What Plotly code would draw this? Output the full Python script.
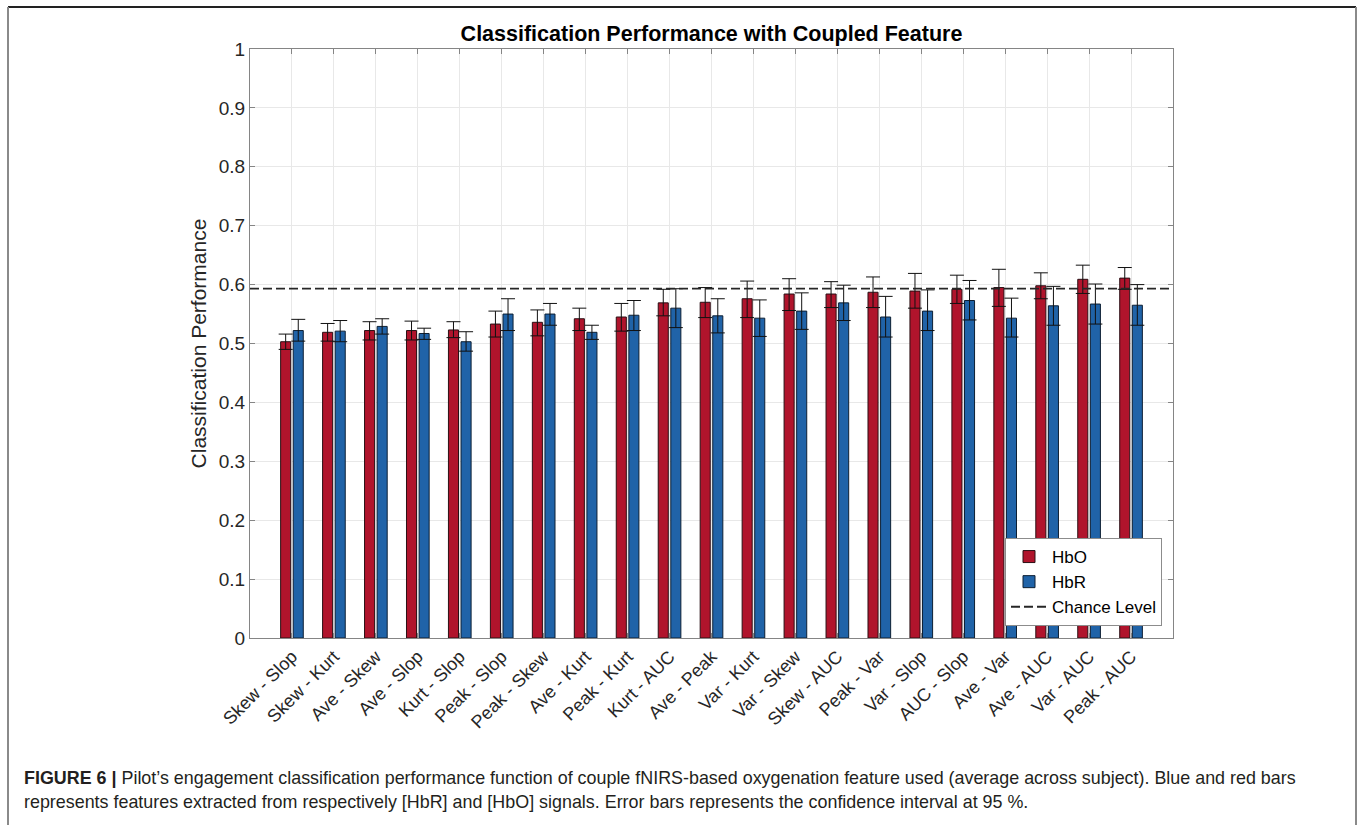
import plotly.graph_objects as go

categories = ["Skew - Slop", "Skew - Kurt", "Ave - Skew", "Ave - Slop", "Kurt - Slop",
              "Peak - Slop", "Peak - Skew", "Ave - Kurt", "Peak - Kurt", "Kurt - AUC",
              "Ave - Peak", "Var - Kurt", "Var - Skew", "Skew - AUC", "Peak - Var",
              "Var - Slop", "AUC - Slop", "Ave - Var", "Ave - AUC", "Var - AUC", "Peak - AUC"]

hbo = [0.503, 0.519, 0.522, 0.522, 0.523, 0.533, 0.536, 0.542, 0.545, 0.569, 0.570,
       0.576, 0.584, 0.584, 0.587, 0.589, 0.592, 0.595, 0.598, 0.609, 0.611]
hbo_hi = [0.516, 0.534, 0.537, 0.538, 0.537, 0.555, 0.557, 0.560, 0.568, 0.592, 0.595,
          0.606, 0.610, 0.605, 0.613, 0.619, 0.616, 0.626, 0.620, 0.633, 0.629]
hbo_lo = [0.490, 0.504, 0.506, 0.506, 0.510, 0.511, 0.513, 0.522, 0.521, 0.547, 0.544,
          0.544, 0.556, 0.561, 0.561, 0.560, 0.568, 0.563, 0.576, 0.585, 0.592]

hbr = [0.522, 0.521, 0.529, 0.517, 0.503, 0.550, 0.550, 0.519, 0.548, 0.560, 0.547,
       0.543, 0.555, 0.569, 0.545, 0.555, 0.573, 0.543, 0.564, 0.567, 0.565]
hbr_hi = [0.541, 0.539, 0.542, 0.526, 0.520, 0.576, 0.568, 0.531, 0.573, 0.593, 0.576,
          0.574, 0.586, 0.599, 0.580, 0.591, 0.607, 0.577, 0.597, 0.601, 0.600]
hbr_lo = [0.504, 0.503, 0.516, 0.507, 0.487, 0.522, 0.531, 0.507, 0.522, 0.527, 0.518,
          0.512, 0.524, 0.539, 0.511, 0.522, 0.540, 0.511, 0.531, 0.533, 0.531]

chance_level = 0.593

y_ticks = [0, 0.1, 0.2, 0.3, 0.4, 0.5, 0.6, 0.7, 0.8, 0.9, 1]
y_ticklabels = ["0", "0.1", "0.2", "0.3", "0.4", "0.5", "0.6", "0.7", "0.8", "0.9", "1"]

title = "Classification Performance with Coupled Feature"
y_title = "Classification Performance"
caption1 = ("<b>FIGURE 6 |</b> Pilot\u2019s engagement classification performance function of couple "
            "fNIRS-based oxygenation feature used (average across subject). Blue and red bars")
caption2 = ("represents features extracted from respectively [HbR] and [HbO] signals. "
            "Error bars represents the confidence interval at 95 %.")

RED = "#B0142C"
BLUE = "#2063A8"
FONT = "Liberation Sans"
CAP_FONT = "Liberation Sans"

x = list(range(1, len(categories) + 1))

fig = go.Figure()
fig.add_trace(go.Bar(
    x=x, y=hbo, name="HbO", width=0.24, offset=-0.27,
    marker=dict(color=RED, line=dict(color="#2a1015", width=1)),
    error_y=dict(type="data", symmetric=False,
                 array=[h - v for h, v in zip(hbo_hi, hbo)],
                 arrayminus=[v - l for v, l in zip(hbo, hbo_lo)],
                 color="#111111", thickness=1, width=7),
))
fig.add_trace(go.Bar(
    x=x, y=hbr, name="HbR", width=0.24, offset=0.03,
    marker=dict(color=BLUE, line=dict(color="#0d1f33", width=1)),
    error_y=dict(type="data", symmetric=False,
                 array=[h - v for h, v in zip(hbr_hi, hbr)],
                 arrayminus=[v - l for v, l in zip(hbr, hbr_lo)],
                 color="#111111", thickness=1, width=7),
))
fig.add_trace(go.Scatter(
    x=[0, len(categories) + 1], y=[chance_level, chance_level], mode="lines",
    name="Chance Level", line=dict(color="#262626", width=1.8, dash="9px,4px"),
))

# plot area geometry in pixels
L, R, T, B = 250, 1173, 49, 638
W, H = 1363, 825
pw, ph = R - L, B - T

def px(xp):
    return (xp - L) / pw

def py(yp):
    return (B - yp) / ph

fig.update_layout(
    width=W, height=H, autosize=False,
    margin=dict(l=L, r=W - R, t=T, b=H - B, pad=0),
    paper_bgcolor="white", plot_bgcolor="white",
    barmode="overlay",
    font=dict(family=FONT, color="#262626"),
    title=dict(text="<b>" + title + "</b>", x=(L + R) / 2 / W, xanchor="center",
               y=1 - 33 / H, yanchor="middle", yref="container",
               font=dict(size=21.5, color="#000000", family=FONT)),
    xaxis=dict(range=[0, len(categories) + 1], tickvals=x, ticktext=categories,
               tickangle=-45, tickfont=dict(size=18, color="#262626"),
               showgrid=True, gridcolor="#E8E8E8", gridwidth=1,
               showline=True, linecolor="#858585", linewidth=1, mirror="ticks",
               ticks="inside", ticklen=5, tickcolor="#858585", zeroline=False),
    yaxis=dict(range=[0, 1], tickvals=y_ticks, ticktext=y_ticklabels,
               tickfont=dict(size=19, color="#262626"),
               title=dict(text=y_title, font=dict(size=21, color="#262626"), standoff=6),
               showgrid=True, gridcolor="#E8E8E8", gridwidth=1,
               showline=True, linecolor="#858585", linewidth=1, mirror="ticks",
               ticks="inside", ticklen=5, tickcolor="#858585", zeroline=False),
    legend=dict(x=px(1162), xanchor="right", y=py(626), yanchor="bottom",
                bgcolor="white", bordercolor="#8C8C8C", borderwidth=1,
                font=dict(size=17, color="#000000", family=FONT),
                itemwidth=36, tracegroupgap=0),
    showlegend=True,
)

# figure frame
frame = dict(xref="paper", yref="paper", type="line")
fig.add_shape(**frame, x0=px(8), x1=px(1356), y0=py(7), y1=py(7), line=dict(color="#222222", width=2))
fig.add_shape(**frame, x0=px(8), x1=px(8), y0=py(7), y1=py(830), line=dict(color="#8a8a8a", width=2))
fig.add_shape(**frame, x0=px(1356), x1=px(1356), y0=py(7), y1=py(830), line=dict(color="#8a8a8a", width=2))

fig.add_annotation(text=caption1, xref="paper", yref="paper", x=px(22), y=py(778),
                   xanchor="left", yanchor="middle", showarrow=False, align="left",
                   font=dict(size=17.9, color="#231F20", family=CAP_FONT))
fig.add_annotation(text=caption2, xref="paper", yref="paper", x=px(22), y=py(802),
                   xanchor="left", yanchor="middle", showarrow=False, align="left",
                   font=dict(size=17.9, color="#231F20", family=CAP_FONT))

fig.write_html("out.html", config={"displayModeBar": False},
               post_script="document.body.style.margin='0';")
